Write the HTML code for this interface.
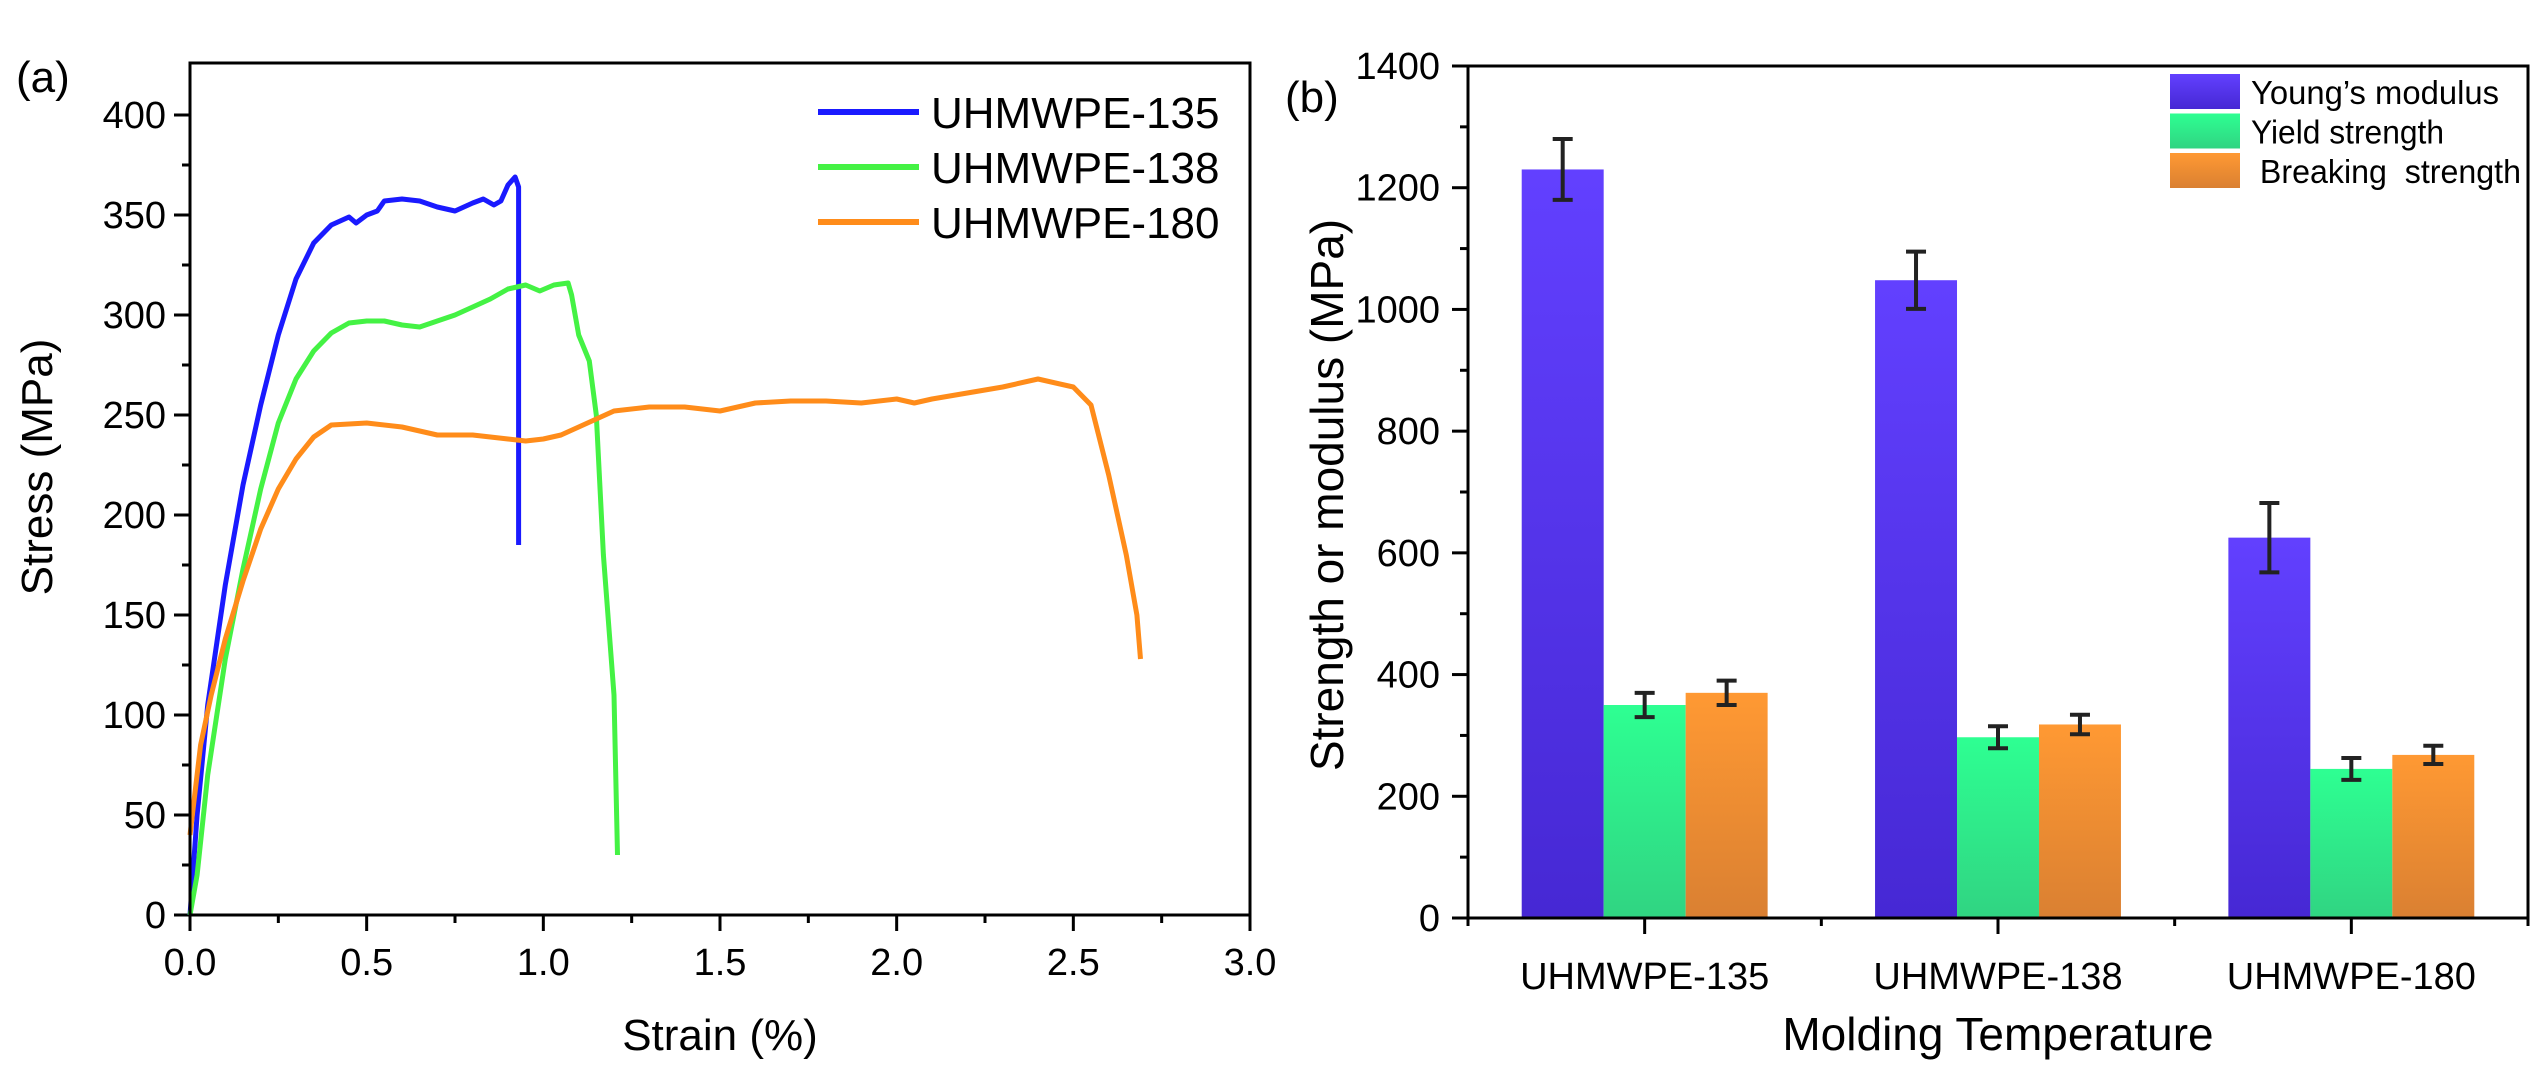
<!DOCTYPE html>
<html><head><meta charset="utf-8"><style>
html,body{margin:0;padding:0;background:#fff;}
svg{display:block;font-family:"Liberation Sans",Arial,sans-serif;}
</style></head><body>
<svg id="fig" width="2538" height="1065" viewBox="0 0 2538 1065" xmlns="http://www.w3.org/2000/svg">
<defs>
<linearGradient id="gB" x1="0" y1="0" x2="0" y2="1"><stop offset="0" stop-color="#6240ff"/><stop offset="1" stop-color="#4628d4"/></linearGradient>
<linearGradient id="gG" x1="0" y1="0" x2="0" y2="1"><stop offset="0" stop-color="#2eff92"/><stop offset="1" stop-color="#30d482"/></linearGradient>
<linearGradient id="gO" x1="0" y1="0" x2="0" y2="1"><stop offset="0" stop-color="#ff9933"/><stop offset="1" stop-color="#da8032"/></linearGradient>
</defs>
<g id="pa"></g>
<g id="pb"></g>
</svg>
<script>
// ---- Panel (a) data ----
const curveNames = ["UHMWPE-135","UHMWPE-138","UHMWPE-180"];
const curve135 = [[0,0],[0.02,50],[0.05,105],[0.1,165],[0.15,215],[0.2,255],[0.25,290],[0.3,318],[0.35,336],[0.4,345],[0.45,349],[0.47,346],[0.5,350],[0.53,352],[0.55,357],[0.6,358],[0.65,357],[0.7,354],[0.75,352],[0.8,356],[0.83,358],[0.86,355],[0.88,357],[0.9,365],[0.92,369],[0.93,364],[0.93,185]];
const curve138 = [[0,0],[0.02,20],[0.05,70],[0.1,128],[0.15,173],[0.2,213],[0.25,246],[0.3,268],[0.35,282],[0.4,291],[0.45,296],[0.5,297],[0.55,297],[0.6,295],[0.65,294],[0.7,297],[0.75,300],[0.8,304],[0.85,308],[0.9,313],[0.95,315],[0.99,312],[1.03,315],[1.07,316],[1.08,310],[1.1,290],[1.13,277],[1.15,250],[1.17,180],[1.2,110],[1.21,30]];
const curve180 = [[0,40],[0.03,85],[0.06,110],[0.1,138],[0.15,167],[0.2,193],[0.25,213],[0.3,228],[0.35,239],[0.4,245],[0.5,246],[0.6,244],[0.7,240],[0.8,240],[0.9,238],[0.95,237],[1.0,238],[1.05,240],[1.1,244],[1.2,252],[1.3,254],[1.4,254],[1.5,252],[1.6,256],[1.7,257],[1.8,257],[1.9,256],[2.0,258],[2.05,256],[2.1,258],[2.2,261],[2.3,264],[2.4,268],[2.5,264],[2.55,255],[2.6,220],[2.65,180],[2.68,150],[2.69,128]];
const xTicksA = ["0.0","0.5","1.0","1.5","2.0","2.5","3.0"];
const yTicksA = ["0","50","100","150","200","250","300","350","400"];
// ---- Panel (b) data ----
const categories = ["UHMWPE-135","UHMWPE-138","UHMWPE-180"];
const seriesNames = ["Young\u2019s modulus","Yield strength"," Breaking  strength"];
const youngs = [1230,1048,625];
const youngsErr = [50,47,57];
const yieldS = [350,297,245];
const yieldErr = [20,18,18];
const breakS = [370,318,268];
const breakErr = [20,16,15];
const yTicksB = ["0","200","400","600","800","1000","1200","1400"];

const NS="http://www.w3.org/2000/svg";
function mk(parent,tag,attrs,text){const e=document.createElementNS(NS,tag);for(const k in attrs)e.setAttribute(k,attrs[k]);if(text!==undefined)e.textContent=text;parent.appendChild(e);return e;}

// Panel A
const pa=document.getElementById('pa');
const AX0=190,AX1=1250,AY0=915,AYT=63;
const xA=v=>AX0+v/3*(AX1-AX0);
const yA=v=>AY0-v*2.0;
let t=mk(pa,'text',{x:16,y:92,'font-size':44},"(a)");


for(let i=0;i<=12;i++){const x=xA(i*0.25);const l=mk(pa,'line',{x1:x,y1:AY0,x2:x,y2:AY0+(i%2?8:16),stroke:'#000','stroke-width':3});

}
xTicksA.forEach(s=>{const e=mk(pa,'text',{x:xA(+s),y:975,'font-size':38,'text-anchor':'middle'},s);

});
for(let i=0;i<=16;i++){const y=yA(i*25);const l=mk(pa,'line',{x1:AX0,y1:y,x2:AX0-(i%2?8:16),y2:y,stroke:'#000','stroke-width':3});

}
yTicksA.forEach(s=>{const e=mk(pa,'text',{x:166,y:yA(+s)+13,'font-size':38,'text-anchor':'end'},s);

});
const colorsA=["#1a1aff","#44f244","#ff8c1a"];
[curve135,curve138,curve180].forEach((c,i)=>{const d=c.map((p,j)=>(j?'L':'M')+xA(p[0]).toFixed(1)+','+yA(p[1]).toFixed(1)).join(' ');
const p=mk(pa,'path',{d:d,fill:'none',stroke:colorsA[i],'stroke-width':5,'stroke-linejoin':'round'});

});
const frA=mk(pa,'rect',{x:AX0,y:AYT,width:AX1-AX0,height:AY0-AYT,fill:'none',stroke:'#000','stroke-width':3});


curveNames.forEach((n,i)=>{const y=112+i*55;
const l=mk(pa,'line',{x1:818,y1:y,x2:919,y2:y,stroke:colorsA[i],'stroke-width':6});


const e=mk(pa,'text',{x:931,y:y+16,'font-size':44},n);

});
let xt=mk(pa,'text',{x:xA(1.5),y:1050,'font-size':44,'text-anchor':'middle'},"Strain (%)");


let yt=mk(pa,'text',{x:0,y:0,'font-size':44,'text-anchor':'middle',transform:'translate(52,467) rotate(-90)'},"Stress (MPa)");



// Panel B
const pb=document.getElementById('pb');
const BX0=1468,BX1=2528,BY0=918,BYT=66;
const xB=v=>BX0+(v-0.5)/3*(BX1-BX0);
const yB=v=>BY0-v/1400*(BY0-BYT);
t=mk(pb,'text',{x:1285,y:112,'font-size':44},"(b)");


for(let i=0;i<=14;i++){const y=yB(i*100);const l=mk(pb,'line',{x1:BX0,y1:y,x2:BX0-(i%2?8:16),y2:y,stroke:'#000','stroke-width':3});

}
yTicksB.forEach(s=>{const e=mk(pb,'text',{x:1440,y:yB(+s)+13,'font-size':38,'text-anchor':'end'},s);

});
const bw=(BX1-BX0)/3*0.232;
const series=[[youngs,youngsErr,'url(#gB)'],[yieldS,yieldErr,'url(#gG)'],[breakS,breakErr,'url(#gO)']];
categories.forEach((c,ci)=>{const cx=xB(ci+1);
series.forEach((s,si)=>{const x=cx+(si-1.5)*bw;const v=s[0][ci],er=s[1][ci];
const r=mk(pb,'rect',{x:x,y:yB(v),width:bw,height:BY0-yB(v),fill:s[2]});


const mx=x+bw/2;
const eb=mk(pb,'path',{d:`M${mx},${yB(v+er)} V${yB(v-er)} M${mx-10},${yB(v+er)} h20 M${mx-10},${yB(v-er)} h20`,stroke:'#222','stroke-width':4,fill:'none'});

});
const l=mk(pb,'line',{x1:cx,y1:BY0,x2:cx,y2:BY0+16,stroke:'#000','stroke-width':3});


const e=mk(pb,'text',{x:cx,y:989,'font-size':38,'text-anchor':'middle'},c);

});
for(let i=0;i<4;i++){const x=xB(i+0.5);const l=mk(pb,'line',{x1:x,y1:BY0,x2:x,y2:BY0+8,stroke:'#000','stroke-width':3});

}
const frB=mk(pb,'rect',{x:BX0,y:BYT,width:BX1-BX0,height:BY0-BYT,fill:'none',stroke:'#000','stroke-width':3});


const swc=['url(#gB)','url(#gG)','url(#gO)'];
const legW=[248,193,270];
seriesNames.forEach((n,i)=>{const y=74+i*39.5;
const r=mk(pb,'rect',{x:2170,y:y,width:70,height:35,fill:swc[i]});


const e=mk(pb,'text',{x:2251,y:y+30,'font-size':33,textLength:legW[i],lengthAdjust:'spacingAndGlyphs'},n);
e.setAttribute('style','white-space:pre');

});
xt=mk(pb,'text',{x:1998,y:1050,'font-size':46,'text-anchor':'middle'},"Molding Temperature");


yt=mk(pb,'text',{x:0,y:0,'font-size':46,'text-anchor':'middle',transform:'translate(1343,495) rotate(-90)'},"Strength or modulus (MPa)");


</script>
</body></html>
